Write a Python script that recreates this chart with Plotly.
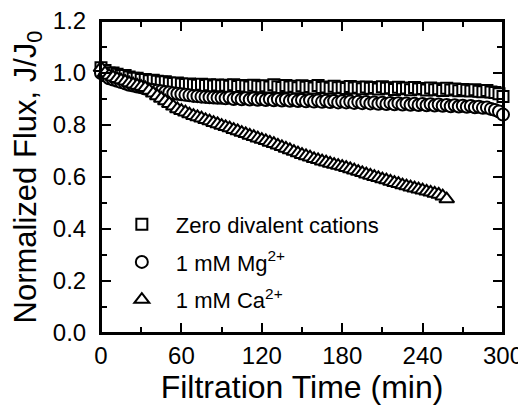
import plotly.graph_objects as go

# Filtration time (min)
T = [0, 3, 6, 9, 12, 15, 18, 21, 24, 27, 30,
     33, 36, 39, 42, 45, 48, 51, 54, 57, 60,
     63, 66, 69, 72, 75, 78, 81, 84, 87, 90,
     93, 96, 99, 102, 105, 108, 111, 114, 117, 120,
     123, 126, 129, 132, 135, 138, 141, 144, 147, 150,
     153, 156, 159, 162, 165, 168, 171, 174, 177, 180,
     183, 186, 189, 192, 195, 198, 201, 204, 207, 210,
     213, 216, 219, 222, 225, 228, 231, 234, 237, 240,
     243, 246, 249, 252, 255, 258, 261, 264, 267, 270,
     273, 276, 279, 282, 285, 288, 291, 294, 297, 300]

zero_cations = [1.02, 1.01, 1.00, 1.00, 0.995, 0.99, 0.99, 0.985, 0.98, 0.98, 0.975,
                0.975, 0.97, 0.972, 0.968, 0.965, 0.966, 0.962, 0.96, 0.962, 0.958,
                0.956, 0.958, 0.955, 0.953, 0.957, 0.952, 0.955, 0.95, 0.954, 0.951,
                0.953, 0.949, 0.955, 0.948, 0.952, 0.95, 0.946, 0.953, 0.949, 0.947,
                0.951, 0.946, 0.955, 0.947, 0.944, 0.952, 0.946, 0.949, 0.943, 0.951,
                0.945, 0.948, 0.942, 0.952, 0.944, 0.946, 0.941, 0.949, 0.943, 0.945,
                0.94, 0.948, 0.942, 0.945, 0.939, 0.946, 0.941, 0.944, 0.938, 0.947,
                0.941, 0.943, 0.937, 0.945, 0.939, 0.942, 0.936, 0.944, 0.938, 0.94,
                0.935, 0.942, 0.936, 0.939, 0.933, 0.941, 0.935, 0.938, 0.932, 0.937,
                0.934, 0.931, 0.936, 0.93, 0.928, 0.933, 0.927, 0.925, 0.92, 0.91]

mg = [1.00, 0.99, 0.98, 0.975, 0.97, 0.965, 0.96, 0.955, 0.952, 0.948, 0.945,
      0.94, 0.937, 0.935, 0.932, 0.93, 0.927, 0.925, 0.922, 0.92, 0.918,
      0.916, 0.914, 0.912, 0.911, 0.909, 0.908, 0.907, 0.906, 0.905, 0.905,
      0.903, 0.906, 0.9, 0.904, 0.899, 0.903, 0.898, 0.902, 0.897, 0.9,
      0.896, 0.9, 0.895, 0.899, 0.894, 0.898, 0.893, 0.897, 0.892, 0.896,
      0.891, 0.895, 0.89, 0.894, 0.889, 0.893, 0.888, 0.892, 0.887, 0.891,
      0.887, 0.89, 0.885, 0.889, 0.884, 0.888, 0.883, 0.887, 0.882, 0.886,
      0.881, 0.885, 0.88, 0.884, 0.879, 0.883, 0.878, 0.882, 0.877, 0.881,
      0.876, 0.88, 0.875, 0.879, 0.874, 0.877, 0.872, 0.876, 0.871, 0.874,
      0.87, 0.873, 0.868, 0.87, 0.866, 0.867, 0.862, 0.858, 0.852, 0.84]

ca = [1.02, 1.0, 0.99, 0.984, 0.978, 0.973, 0.968, 0.962, 0.957, 0.952, 0.948,
      0.943, 0.933, 0.922, 0.912, 0.902, 0.892, 0.882, 0.872, 0.862, 0.855,
      0.849, 0.842, 0.836, 0.831, 0.826, 0.82, 0.815, 0.809, 0.804, 0.798,
      0.793, 0.788, 0.782, 0.777, 0.771, 0.766, 0.76, 0.755, 0.749, 0.744,
      0.739, 0.733, 0.728, 0.722, 0.716, 0.71, 0.704, 0.698, 0.692, 0.686,
      0.681, 0.676, 0.67, 0.666, 0.661, 0.657, 0.652, 0.648, 0.644, 0.64,
      0.636, 0.631, 0.626, 0.621, 0.616, 0.611, 0.606, 0.601, 0.597, 0.592,
      0.588, 0.583, 0.578, 0.574, 0.569, 0.565, 0.561, 0.557, 0.553, 0.549,
      0.545, 0.541, 0.537, 0.533, 0.526, 0.515]
T_ca = T[:len(ca)]

names = ["Zero divalent cations", "1 mM Mg<sup>2+</sup>", "1 mM Ca<sup>2+</sup>"]
FONT = "Liberation Sans, Arial, sans-serif"

fig = go.Figure()
specs = [(T, zero_cations, "square", 11), (T, mg, "circle", 12), (T_ca, ca, "triangle-up", 13)]
for i, ((tx, yv, sym, sz), nm) in enumerate(zip(specs, names)):
    fig.add_trace(go.Scatter(
        x=tx, y=yv, mode="markers", name=nm, legendgroup=f"g{i}",
        cliponaxis=False,
        marker=dict(symbol=sym, size=sz, color="white",
                    line=dict(color="black", width=2)),
    ))

axis_common = dict(
    showline=True, linecolor="black", linewidth=2, mirror="allticks",
    ticks="inside", ticklen=10, tickwidth=2, tickcolor="black",
    showgrid=False, zeroline=False, automargin=False,
    ticklabeloverflow="allow",
    tickfont=dict(family=FONT, size=24, color="black"),
)
fig.update_xaxes(range=[0, 300], dtick=60, tick0=0,
                 minor=dict(ticks="inside", dtick=30, ticklen=6, tickwidth=2, tickcolor="black"),
                 title=dict(text="Filtration Time (min)", font=dict(family=FONT, size=32, color="black"), standoff=6),
                 ticklabelstandoff=0,
                 **axis_common)
fig.update_yaxes(range=[0, 1.2], dtick=0.2, tick0=0, tickformat=".1f",
                 minor=dict(ticks="inside", dtick=0.1, ticklen=6, tickwidth=2, tickcolor="black"),
                 title=dict(text="Normalized Flux, J/J<sub>0</sub>", font=dict(family=FONT, size=31, color="black"), standoff=14),
                 ticklabelstandoff=8,
                 **axis_common)

# explicit frame around the plot area so the top border is always drawn
fig.add_shape(type="rect", xref="paper", yref="paper", x0=0, x1=1, y0=0, y1=1,
              line=dict(color="black", width=2), fillcolor="rgba(0,0,0,0)", layer="above")

# the page body adds an 8px offset; margins place the plot area at x 101-503, y 21-333 on screen
fig.update_layout(
    width=526, height=411,
    margin=dict(l=93, r=31, t=13, b=86),
    plot_bgcolor="white", paper_bgcolor="white",
    font=dict(family=FONT, color="black"),
    legend=dict(x=0.017, y=0.04, xanchor="left", yanchor="bottom",
                bgcolor="rgba(0,0,0,0)", borderwidth=0,
                font=dict(family=FONT, size=22, color="black"),
                itemwidth=58, tracegroupgap=6),
    showlegend=True,
)

fig.write_html("out.html")
